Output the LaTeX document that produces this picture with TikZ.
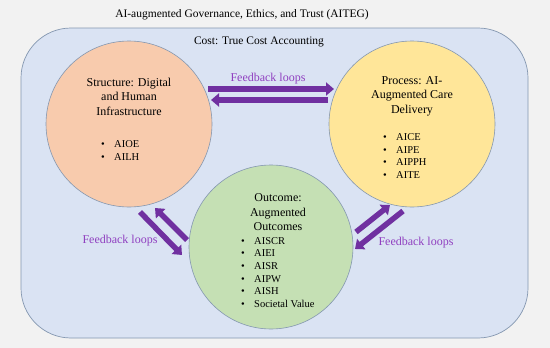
\documentclass[tikz,border=0pt]{standalone}
\usepackage{fontspec}
\setmainfont{Liberation Serif}
\usetikzlibrary{arrows.meta}
\definecolor{bgc}{HTML}{F2F2F2}
\definecolor{bluefill}{HTML}{DAE3F3}
\definecolor{edgec}{HTML}{8497B0}
\definecolor{orangec}{HTML}{F8CBAD}
\definecolor{yellowc}{HTML}{FFE699}
\definecolor{greenc}{HTML}{C5E0B4}
\definecolor{purplec}{HTML}{7030A0}
\definecolor{labelc}{HTML}{9040C0}
\tikzset{
  circ/.style={circle, draw=edgec, line width=0.6pt, inner sep=0pt},
  ctitle/.style={align=center, inner sep=0pt, font=\rmfamily\fontsize{12}{14.5}\selectfont},
  blist/.style={align=left, inner sep=0pt, anchor=west, font=\rmfamily\fontsize{10.5}{12.7}\selectfont},
  fb/.style={draw=purplec, line width=5.5pt, -{Triangle[length=8pt,width=13pt]}},
  fblabel/.style={text=labelc, inner sep=0pt, font=\rmfamily\fontsize{12}{14}\selectfont},
  plain/.style={inner sep=0pt, font=\rmfamily\fontsize{11.5}{14}\selectfont}
}
\newcommand{\bitem}[1]{\makebox[13pt][l]{\textbullet}#1}
\begin{document}
\begin{tikzpicture}[x=1pt,y=-1pt]
\fill[bgc] (0,0) rectangle (550,348);
\useasboundingbox (0,0) rectangle (550,348);
\node[plain] (title) at (242,15) {AI-augmented Governance, Ethics, and Trust (AITEG)};
\node[draw=edgec, fill=bluefill, line width=0.7pt, rounded corners=50pt, minimum width=507pt, minimum height=310pt, inner sep=0pt] (frame) at (274.5,183) {};
\node[plain] (cost) at (259,42) {Cost: True Cost Accounting};

\node[circ, fill=orangec, minimum size=166pt] (struct) at (129,124) {};
\node[circ, fill=yellowc, minimum size=166pt] (proc) at (412,124) {};
\node[circ, fill=greenc, minimum size=164pt] (outc) at (271,247) {};

\node[ctitle] (structT) at (129,96.5) {Structure: Digital\\and Human\\Infrastructure};
\node[blist] (structL) at (101,150.5) {\bitem{AIOE}\\\bitem{AILH}};

\node[ctitle] (procT) at (412,96) {Process: AI-\\Augmented Care\\Delivery};
\node[blist] (procL) at (383,156) {\bitem{AICE}\\\bitem{AIPE}\\\bitem{AIPPH}\\\bitem{AITE}};

\node[ctitle] (outcT) at (278,212.5) {Outcome:\\Augmented\\Outcomes};
\node[blist] (outcL) at (241,272.5) {\bitem{AISCR}\\\bitem{AIEI}\\\bitem{AISR}\\\bitem{AIPW}\\\bitem{AISH}\\\bitem{Societal Value}};

% top arrows
\coordinate (a1s) at (208,89);
\coordinate (a1e) at (334,89);
\coordinate (a2s) at (328,100);
\coordinate (a2e) at (211,100);
\draw[fb] (a1s) -- (a1e);
\draw[fb] (a2s) -- (a2e);
\node[fblabel] (fbtop) at (268,79) {Feedback loops};

% left arrows
\coordinate (b1s) at (140,212);
\coordinate (b1e) at (182,255);
\coordinate (b2s) at (187,240);
\coordinate (b2e) at (155,208);
\draw[fb] (b1s) -- (b1e);
\draw[fb] (b2s) -- (b2e);
\node[fblabel] (fbleft) at (120,241) {Feedback loops};

% right arrows
\coordinate (c1s) at (356,232);
\coordinate (c1e) at (390,205);
\coordinate (c2s) at (403,211);
\coordinate (c2e) at (355,249);
\draw[fb] (c1s) -- (c1e);
\draw[fb] (c2s) -- (c2e);
\node[fblabel] (fbright) at (416,243) {Feedback loops};
\end{tikzpicture}
\end{document}
